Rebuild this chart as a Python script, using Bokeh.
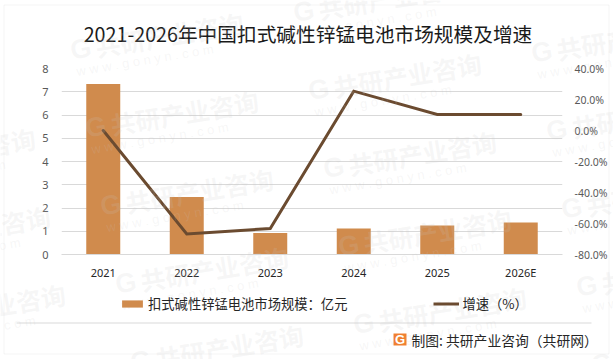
from bokeh.plotting import figure
from bokeh.embed import file_html
from bokeh.resources import INLINE
from bokeh.models import (Range1d, FactorRange, LinearAxis, FixedTicker, NumeralTickFormatter,
                          Label, BoxAnnotation, Legend, LegendItem)

title = "2021-2026年中国扣式碱性锌锰电池市场规模及增速"
categories = ["2021", "2022", "2023", "2024", "2025", "2026E"]
market_size = [7.33, 2.47, 0.92, 1.12, 1.25, 1.38]
growth = [0.0, -0.667, -0.632, 0.254, 0.103, 0.103]
left_ticks = [0, 1, 2, 3, 4, 5, 6, 7, 8]
right_ticks = [-0.8, -0.6, -0.4, -0.2, 0.0, 0.2, 0.4]
bar_name = "扣式碱性锌锰电池市场规模：亿元"
line_name = "增速（%）"
footer = "制图: 共研产业咨询（共研网）"
wm_cn = "共研产业咨询"
wm_en = "w w w . g o n y n . c o m"

CJK = "Noto Sans CJK SC"
BAR_COLOR, LINE_COLOR = "#D08B4D", "#6B4B30"
W, H = 613, 359
FL, FB = 61, 254  # chart frame left and bottom in page pixels
PIN = {"position": "absolute", "left": "0px", "top": "0px"}

p = figure(width=W, height=H, output_backend="svg", toolbar_location=None,
           x_range=FactorRange(factors=categories, range_padding=0),
           y_range=Range1d(0, 8),
           min_border_left=FL, min_border_right=51, min_border_top=68, min_border_bottom=H - FB,
           outline_line_color=None, background_fill_alpha=0, border_fill_color="white")
p.styles = PIN
p.extra_y_ranges = {"g": Range1d(-0.8, 0.4)}

p.xgrid.visible = False
p.ygrid.grid_line_color = "#d9d9d9"
p.ygrid.grid_line_width = 1
p.ygrid.ticker = FixedTicker(ticks=left_ticks)

p.yaxis.ticker = FixedTicker(ticks=left_ticks)
p.yaxis.axis_line_color = None
p.yaxis.major_tick_line_color = None
p.yaxis.minor_tick_line_color = None
p.yaxis.major_label_text_color = "#595959"
p.yaxis.major_label_text_font = "Noto Sans"
p.yaxis.major_label_text_font_size = "11px"
p.yaxis.major_label_standoff = 7

p.xaxis.axis_line_color = "#d9d9d9"
p.xaxis.major_tick_line_color = None
p.xaxis.minor_tick_line_color = None
p.xaxis.major_label_text_color = "#262626"
p.xaxis.major_label_text_font = "Noto Sans"
p.xaxis.major_label_text_font_size = "11px"
p.xaxis.major_label_standoff = 4

ra = LinearAxis(y_range_name="g", ticker=FixedTicker(ticks=right_ticks),
                formatter=NumeralTickFormatter(format="0.0%"))
ra.axis_line_color = None
ra.major_tick_line_color = None
ra.minor_tick_line_color = None
ra.major_label_text_color = "#595959"
ra.major_label_text_font = "Noto Sans"
ra.major_label_text_font_size = "10.5px"
ra.major_label_standoff = 6
p.add_layout(ra, "right")

p.vbar(x=categories, top=market_size, width=0.407, bottom=0, fill_color=BAR_COLOR, line_color=None)
p.line(x=categories, y=growth, y_range_name="g", line_color=LINE_COLOR, line_width=3, line_cap="round", line_join="miter")

# transparent full-page layer for the frame, title, legend, footer and watermark
o = figure(width=W, height=H, output_backend="svg", toolbar_location=None,
           x_range=Range1d(0, W), y_range=Range1d(0, H),
           min_border=0, outline_line_color=None,
           background_fill_alpha=0, border_fill_alpha=0)
o.styles = PIN
o.axis.visible = False
o.grid.visible = False

# legend keys: placed outside this layer's view, so only their legend swatches show
key_bar = o.vbar(x=[-100], top=[-100], bottom=[-101], width=1, fill_color=BAR_COLOR, line_color=None)
key_line = o.line(x=[-100, -90], y=[-100, -100], line_color=LINE_COLOR, line_width=3)
legend = Legend(items=[LegendItem(label=bar_name, renderers=[key_bar]), LegendItem(label=line_name, renderers=[key_line])],
                orientation="horizontal", location=(119, 46), spacing=86, padding=0, margin=0,
                glyph_width=26, glyph_height=9, label_standoff=3,
                label_text_font=CJK, label_text_font_size="13.3px", label_text_color="#262626",
                background_fill_alpha=0, border_line_color=None, label_height=15)
o.add_layout(legend, "center")


def box(l, t, r, b, **kw):
    o.add_layout(BoxAnnotation(left=l, right=r, top=H - t, bottom=H - b, left_units="screen", right_units="screen",
                               top_units="screen", bottom_units="screen", **kw))


def text(x, y, s, **kw):
    o.add_layout(Label(x=x, y=H - y, x_units="screen", y_units="screen", text=s, **kw))


box(3.5, 4.5, 608.5, 353.5, fill_alpha=0, line_color="#d9d9d9", line_width=1)
box(16, 322, 591, 323, fill_color="#d9d9d9", fill_alpha=1, line_alpha=0)

text(307.5, 33, title, text_font=CJK, text_font_size="19.7px", text_color="#1a1a1a",
     text_align="center", text_baseline="middle")
text(411, 339, footer, text_font=CJK, text_font_size="13.8px", text_color="#262626", text_baseline="middle")

box(393, 333, 406, 345, fill_color="#F08030", fill_alpha=1, line_alpha=0)
text(399.5, 339, "G", text_font="Liberation Sans", text_font_style="bold", text_font_size="13px",
     text_color="white", text_align="center", text_baseline="middle")

wm_angle = 0.165
for i in range(-2, 4):
    for j in range(-2, 5):
        x0 = 85 + 223 * i + 15 * j
        y0 = 128 - 37.5 * i + 78 * j
        if -150 < x0 < 600 and 0 < y0 < 380:
            kw = dict(angle=wm_angle, text_color="#c8c8c8", text_alpha=0.16, level="overlay", text_baseline="middle")
            text(x0, y0, "G", text_font="Liberation Sans", text_font_style="bold", text_font_size="27px", **kw)
            text(x0 + 25, y0 - 4, wm_cn, text_font=CJK, text_font_style="bold", text_font_size="25px", **kw)
            text(x0 + 6, y0 + 21, wm_en, text_font="Liberation Sans", text_font_size="13px", **kw)

open("out.html", "w").write(file_html([p, o], INLINE))
